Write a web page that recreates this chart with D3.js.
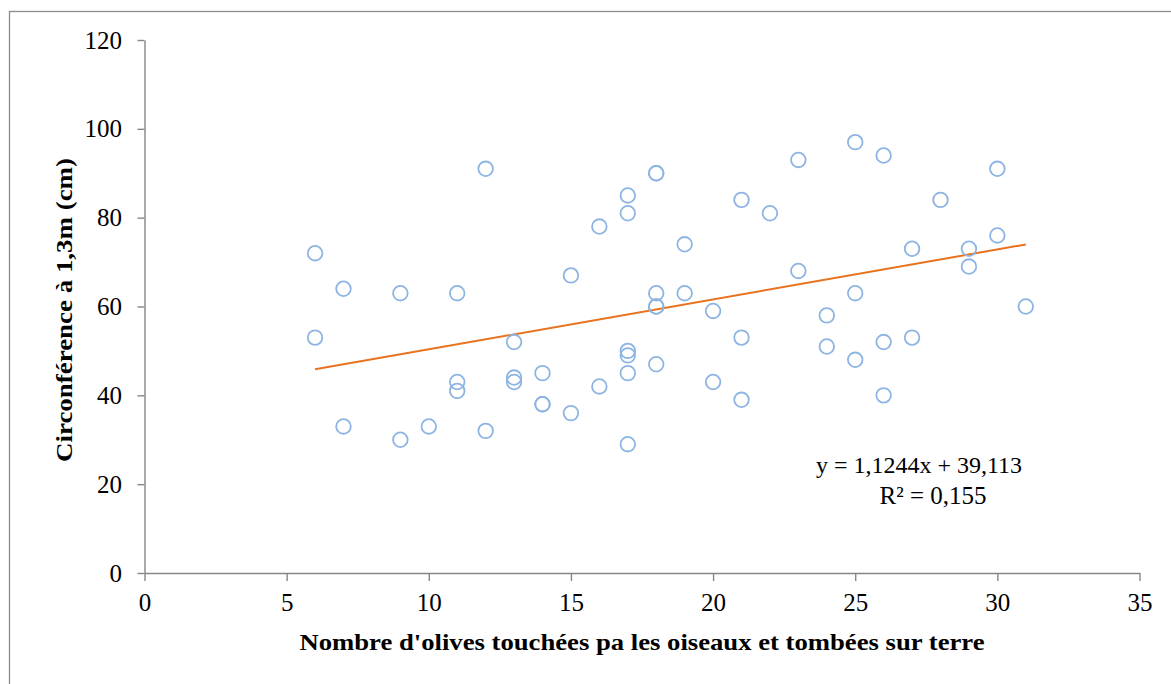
<!DOCTYPE html>
<html>
<head>
<meta charset="utf-8">
<script src="https://cdn.jsdelivr.net/npm/d3@7"></script>
<style>
  body { margin: 0; background: #fff; }
  .axis path, .axis line { stroke: #868686; stroke-width: 1.4; }
  .axis text { font-family: 'Liberation Serif', 'Times New Roman', serif; font-size: 25px; fill: #000; }
</style>
</head>
<body>
<div id="chart"></div>
<script>
// olives touched by birds (x) vs circumference at 1.3 m (y)
var olives = [6, 6, 7, 7, 9, 9, 10, 11, 11, 11, 12, 12, 13, 13, 13, 14, 14, 14, 15, 15,
  16, 16, 17, 17, 17, 17, 17, 17, 18, 18, 18, 18, 18, 18, 19, 19, 20, 20, 21, 21,
  21, 22, 23, 23, 24, 24, 25, 25, 25, 26, 26, 26, 27, 27, 28, 29, 29, 30, 30, 31];
var circonference = [72, 53, 64, 33, 63, 30, 33, 63, 43, 41, 91, 32, 52, 44, 43, 45, 38, 38, 67, 36,
  78, 42, 85, 81, 50, 49, 45, 29, 90, 90, 63, 60, 60, 47, 74, 63, 59, 43, 84, 53,
  39, 81, 93, 68, 58, 51, 97, 63, 48, 94, 52, 40, 73, 53, 84, 73, 69, 91, 76, 60];
var xTicks = [0, 5, 10, 15, 20, 25, 30, 35];
var yTicks = [0, 20, 40, 60, 80, 100, 120];
// linear trend shown on the chart
var slope = 1.1244;
var intercept = 39.113;
var equationLabel = 'y = 1,1244x + 39,113';
var r2Label = 'R² = 0,155';

var width = 1171;
var height = 684;
var serif = "'Liberation Serif', 'Times New Roman', serif";

var svg = d3.select('#chart')
  .append('svg')
  .attr('width', width)
  .attr('height', height);

// outer frame of the chart area (cropped on right and bottom)
svg.append('rect')
  .attr('x', 9.5)
  .attr('y', 11.5)
  .attr('width', 1300)
  .attr('height', 800)
  .attr('fill', 'none')
  .attr('stroke', '#8c8c8c')
  .attr('stroke-width', 1.3);

var x = d3.scaleLinear().domain([0, 35]).range([144.5, 1139.5]);
var y = d3.scaleLinear().domain([0, 120]).range([573, 40]);

svg.append('g')
  .attr('class', 'axis x-axis')
  .attr('transform', 'translate(0,' + y(0) + ')')
  .call(d3.axisBottom(x).tickValues(xTicks).tickSize(8).tickSizeOuter(0).tickPadding(12.5));

svg.append('g')
  .attr('class', 'axis y-axis')
  .attr('transform', 'translate(' + x(0) + ',0)')
  .call(d3.axisLeft(y).tickValues(yTicks).tickSize(7).tickSizeOuter(0).tickPadding(15.5));

// trend line from min to max x
var xExtent = d3.extent(olives);
svg.append('line')
  .attr('x1', x(xExtent[0]))
  .attr('y1', y(slope * xExtent[0] + intercept))
  .attr('x2', x(xExtent[1]))
  .attr('y2', y(slope * xExtent[1] + intercept))
  .attr('stroke', '#e8731e')
  .attr('stroke-width', 2);

svg.append('g')
  .selectAll('circle')
  .data(olives.map((d, i) => ({ x: d, y: circonference[i] })))
  .enter()
  .append('circle')
  .attr('cx', d => x(d.x))
  .attr('cy', d => y(d.y))
  .attr('r', 7.3)
  .attr('fill', 'none')
  .attr('stroke', '#8db4e2')
  .attr('stroke-width', 1.8);

// equation labels
svg.append('text')
  .attr('x', 919)
  .attr('y', 473)
  .attr('text-anchor', 'middle')
  .style('font-family', serif)
  .style('font-size', '24px')
  .text(equationLabel);

svg.append('text')
  .attr('x', 933)
  .attr('y', 504)
  .attr('text-anchor', 'middle')
  .style('font-family', serif)
  .style('font-size', '25px')
  .text(r2Label);

// axis titles
svg.append('text')
  .attr('x', 642)
  .attr('y', 650)
  .attr('text-anchor', 'middle')
  .attr('textLength', 685)
  .attr('lengthAdjust', 'spacingAndGlyphs')
  .style('font-family', serif)
  .style('font-weight', 'bold')
  .style('font-size', '24px')
  .text("Nombre d'olives touchées pa les oiseaux et tombées sur terre");

svg.append('text')
  .attr('transform', 'translate(72,310) rotate(-90)')
  .attr('text-anchor', 'middle')
  .attr('textLength', 304)
  .attr('lengthAdjust', 'spacingAndGlyphs')
  .style('font-family', serif)
  .style('font-weight', 'bold')
  .style('font-size', '24px')
  .text('Circonférence à 1,3m (cm)');
</script>
</body>
</html>
